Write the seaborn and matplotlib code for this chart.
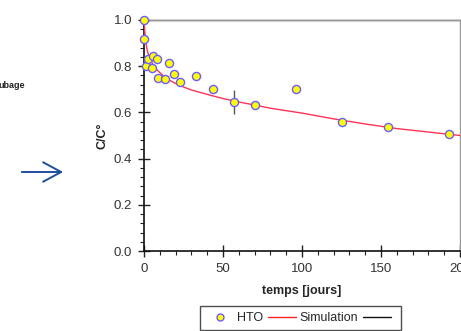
import numpy as np
import pandas as pd
import matplotlib
matplotlib.use("Agg")
import matplotlib.pyplot as plt
import seaborn as sns
from matplotlib.ticker import MultipleLocator, FormatStrFormatter
from matplotlib.lines import Line2D

# measured HTO points (time in days, C/C0)
hto_t = [0, 0, 1, 2.5, 5.3, 5.7, 8.4, 8.9, 13, 16, 19.2, 22.5, 33, 43.8, 57, 70, 96.5, 125.4, 154.6, 193]
hto_c = [1.0, 0.918, 0.802, 0.832, 0.794, 0.844, 0.831, 0.749, 0.745, 0.815, 0.766, 0.733,
         0.756, 0.700, 0.646, 0.633, 0.700, 0.558, 0.538, 0.505]
err_t = [57]
err_c = [0.646]
err_half = [0.052]

# simulation curve
sim_t = [0, 0.5, 1, 2, 3, 5, 8, 12, 16, 20, 25, 30, 40, 50, 60, 70, 80, 100, 120, 140, 160, 180, 200]
sim_c = [1.0, 0.95, 0.91, 0.87, 0.845, 0.815, 0.785, 0.76, 0.74, 0.725, 0.71, 0.697, 0.678,
         0.66, 0.645, 0.632, 0.618, 0.597, 0.572, 0.55, 0.53, 0.515, 0.50]

# injected concentration (black series)
ref_t = [0, 200]
ref_c = [1.0, 1.0]

sns.set_style("white")
plt.rcParams['font.family'] = ['Liberation Sans', 'DejaVu Sans']

W, H = 461, 331
fig = plt.figure(figsize=(W / 100, H / 100), dpi=100, facecolor="white")
ax = fig.add_axes([144 / W, 1 - 251 / H, (460 - 144) / W, (251 - 20) / H])

sim_df = pd.DataFrame({"t": sim_t, "c": sim_c})
hto_df = pd.DataFrame({"t": hto_t, "c": hto_c})

ax.plot(ref_t, ref_c, color="#555555", lw=1.0, clip_on=False, zorder=2)
sns.lineplot(data=sim_df, x="t", y="c", ax=ax, color="#ff3355", lw=1.0, zorder=3)
ax.errorbar(err_t, err_c, yerr=err_half, fmt="none", ecolor="#555555", elinewidth=1.0, zorder=3)
sns.scatterplot(data=hto_df, x="t", y="c", ax=ax, color="#ffff00", edgecolor="#6a5cff",
                s=34, linewidth=1.0, zorder=4, clip_on=False)

ax.set_xlim(0, 200)
ax.set_ylim(0, 1.0)
ax.xaxis.set_major_locator(MultipleLocator(50))
ax.xaxis.set_minor_locator(MultipleLocator(10))
ax.yaxis.set_major_locator(MultipleLocator(0.2))
ax.yaxis.set_minor_locator(MultipleLocator(0.04))
ax.yaxis.set_major_formatter(FormatStrFormatter("%.1f"))
ax.tick_params(which="major", direction="inout", length=8, width=1, color="#222222",
               labelsize=9.5, labelcolor="#333333", pad=4.5)
ax.tick_params(which="minor", direction="out", length=3, width=0.8, color="#222222")
ax.tick_params(axis="x", which="both", bottom=True)
ax.tick_params(axis="y", which="both", left=True)

for side in ["left", "bottom"]:
    ax.spines[side].set_color("#111111")
    ax.spines[side].set_linewidth(1.2)
for side in ["top", "right"]:
    ax.spines[side].set_color("#999999")
    ax.spines[side].set_linewidth(1.0)

ax.set_xlabel("temps [jours]", fontsize=9, fontweight="bold", labelpad=7)
ax.set_ylabel("C/C°", fontsize=9, fontweight="bold", labelpad=4)

handles = [
    Line2D([], [], ls="none", marker="o", ms=5, mfc="#ffff00", mec="#6a5cff", mew=1.0),
    Line2D([], [], color="#ff2020", lw=1.0),
    Line2D([], [], color="#111111", lw=1.0),
]
leg = fig.legend(handles, ["HTO", "Simulation", ""], loc="center", ncol=3,
                 bbox_to_anchor=(300 / W, 1 - 318 / H), fontsize=9, frameon=True,
                 fancybox=False, handlelength=2.2, handletextpad=0.3, columnspacing=0.4,
                 borderpad=0.5)
leg.get_frame().set_edgecolor("#222222")
leg.get_frame().set_linewidth(1.0)

fig.text(-0.003, 1 - 85 / H, "ubage", fontsize=6.5, fontweight="bold", color="#222222",
         ha="left", va="center")
fig.add_artist(matplotlib.patches.FancyArrowPatch(
    (19 / W, 1 - 172 / H), (66 / W, 1 - 172 / H), transform=fig.transFigure,
    arrowstyle="->,head_length=13,head_width=7", color="#1f4e9c", lw=1.4, mutation_scale=1))

fig.savefig("out.png", dpi=100, facecolor="white")
